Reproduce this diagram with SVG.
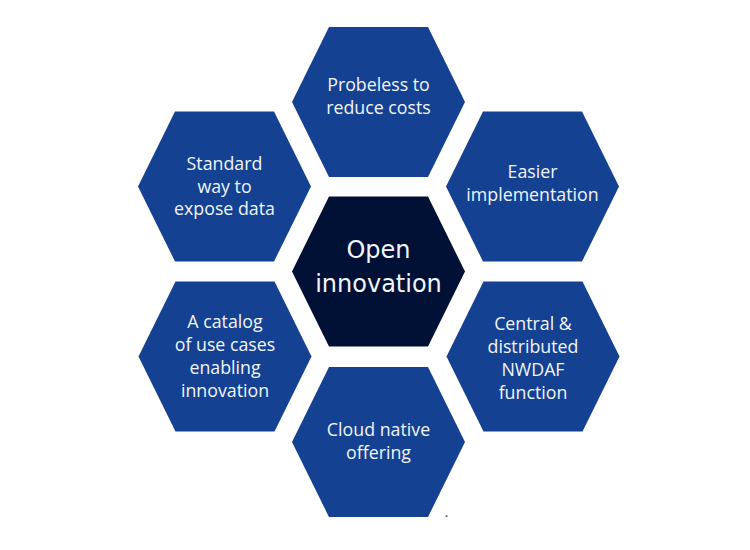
<svg xmlns="http://www.w3.org/2000/svg" width="750" height="550" viewBox="0 0 750 550">
<defs>
<style>
.hex{fill:#144191;}
.core{fill:#001135;}
.t{font-family:"Open Sans","Noto Sans","Liberation Sans",sans-serif;font-size:17.8px;fill:#f2f5fb;text-anchor:middle;}
.tc{font-family:"DejaVu Sans","Liberation Sans",sans-serif;font-size:24px;fill:#f2f5fb;text-anchor:middle;}
</style>
<polygon id="hexshape" points="-86.5,0 -49.5,-75 49.5,-75 86.5,0 49.5,75 -49.5,75"/>
</defs>
<rect width="750" height="550" fill="#ffffff"/>
<g id="connectors"></g>
<g id="n-top">
<use href="#hexshape" class="hex" transform="translate(378.5,102)"/>
<text class="t" x="378.5" y="91">Probeless to</text>
<text class="t" x="378.5" y="114">reduce costs</text>
</g>
<g id="n-upper-left">
<use href="#hexshape" class="hex" transform="translate(224.5,186.5)"/>
<text class="t" x="224.5" y="170">Standard</text>
<text class="t" x="224.5" y="192.5">way to</text>
<text class="t" x="224.5" y="215">expose data</text>
</g>
<g id="n-upper-right">
<use href="#hexshape" class="hex" transform="translate(532.5,186.5)"/>
<text class="t" x="532.5" y="177.5">Easier</text>
<text class="t" x="532.5" y="200.5">implementation</text>
</g>
<g id="n-center">
<use href="#hexshape" class="core" transform="translate(378.5,271.5)"/>
<text class="tc" x="378.5" y="258">Open</text>
<text class="tc" x="378.5" y="292">innovation</text>
</g>
<g id="n-lower-left">
<use href="#hexshape" class="hex" transform="translate(225,356.5)"/>
<text class="t" x="225" y="328">A catalog</text>
<text class="t" x="225" y="351">of use cases</text>
<text class="t" x="225" y="374">enabling</text>
<text class="t" x="225" y="396.5">innovation</text>
</g>
<g id="n-lower-right">
<use href="#hexshape" class="hex" transform="translate(533,356.5)"/>
<text class="t" x="533" y="330">Central &amp;</text>
<text class="t" x="533" y="353">distributed</text>
<text class="t" x="533" y="376">NWDAF</text>
<text class="t" x="533" y="398.5">function</text>
</g>
<g id="n-bottom">
<use href="#hexshape" class="hex" transform="translate(378.5,442)"/>
<text class="t" x="378.5" y="436">Cloud native</text>
<text class="t" x="378.5" y="458.5">offering</text>
</g>
<rect x="445.5" y="515.5" width="2" height="1.2" fill="#222222"/>
</svg>
